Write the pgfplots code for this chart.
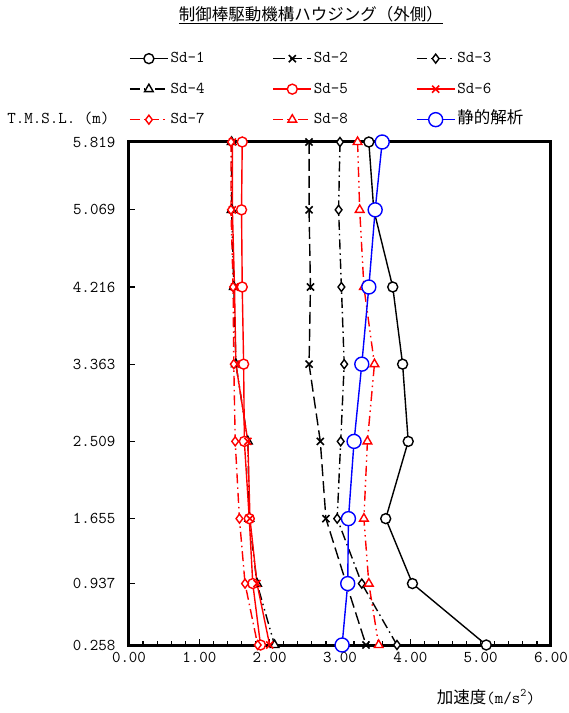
\documentclass[border=0pt]{standalone}
\usepackage{fontspec}
\usepackage{pgfplots}
\pgfplotsset{compat=1.18}
\newfontfamily\cjk{Noto Sans CJK JP}
\newcommand\fs{\fontsize{16.5}{19}\selectfont}
\begin{document}
\begin{tikzpicture}
\path[use as bounding box] (-129pt,-68pt) rectangle (440pt,645pt);
\begin{axis}[
 at={(0pt,0pt)}, anchor=south west,
 scale only axis, width=422pt, height=503pt,
 xmin=0, xmax=6, ymin=0.258, ymax=5.819,
 xtick={0,1,2,3,4,5,6}, xticklabels={0.00,1.00,2.00,3.00,4.00,5.00,6.00},
 minor x tick num=4,
 ytick={0.258,0.937,1.655,2.509,3.363,4.216,5.069,5.819},
 yticklabels={0.258,0.937,1.655,2.509,3.363,4.216,5.069,5.819},
 tick align=inside, xtick pos=bottom, ytick pos=left,
 major tick length=6pt, minor tick length=4pt,
 tick style={black, line width=1.2pt},
 every outer x axis line/.append style={line width=3pt},
 every outer y axis line/.append style={line width=3pt},
 axis line style={line width=3pt},
 ticklabel style={font=\fs\ttfamily},
 xticklabel style={yshift=-4pt},
 yticklabel style={xshift=-10pt},
 clip=false,
 legend columns=3, legend cell align=left,
 legend style={at={(0,1.182)}, anchor=north west, draw=none, fill=none, inner sep=0pt,
   row sep=14.5pt, column sep=0pt, font=\fs\ttfamily,
   nodes={inner xsep=2pt, inner ysep=0pt, text height=12pt, text depth=4pt}},
 legend image code/.code={\draw[mark repeat=2,mark phase=2,#1] plot coordinates {(0pt,0pt) (19pt,0pt) (38pt,0pt)};},
]
\draw[black, line width=3pt] (rel axis cs:0,0) rectangle (rel axis cs:1,1);
\addplot[black, line width=1.4pt, mark=*, mark size=5pt, mark options={solid, fill=white}]
 coordinates {(3.41,5.819)(3.48,5.069)(3.75,4.216)(3.89,3.363)(3.97,2.509)(3.65,1.655)(4.03,0.937)(5.08,0.258)};
\addlegendentry{\makebox[100pt][l]{Sd-1}}
\addplot[black, line width=1.4pt, dash pattern=on 12pt off 5pt, mark=x, mark size=5pt, mark options={solid, line width=1.6pt}]
 coordinates {(2.56,5.819)(2.56,5.069)(2.58,4.216)(2.56,3.363)(2.72,2.509)(2.80,1.655)(3.09,0.937)(3.37,0.258)};
\addlegendentry{\makebox[100pt][l]{Sd-2}}
\addplot[black, line width=1.4pt, dash pattern=on 10pt off 4pt on 1.5pt off 4pt, mark=diamond*, mark size=4.5pt, mark options={solid, fill=white}]
 coordinates {(3.00,5.819)(2.98,5.069)(3.02,4.216)(3.06,3.363)(3.01,2.509)(2.96,1.655)(3.31,0.937)(3.81,0.258)};
\addlegendentry{\makebox[100pt][l]{Sd-3}}
\addplot[black, line width=1.4pt, dash pattern=on 10pt off 4pt on 1.5pt off 4pt on 1.5pt off 4pt, mark=triangle*, mark size=5pt, mark options={solid, fill=white}]
 coordinates {(1.46,5.819)(1.46,5.069)(1.49,4.216)(1.52,3.363)(1.69,2.509)(1.71,1.655)(1.82,0.937)(2.07,0.258)};
\addlegendentry{\makebox[100pt][l]{Sd-4}}
\addplot[red, line width=1.4pt, mark=*, mark size=5pt, mark options={solid, fill=white}]
 coordinates {(1.61,5.819)(1.60,5.069)(1.61,4.216)(1.63,3.363)(1.64,2.509)(1.71,1.655)(1.76,0.937)(1.87,0.258)};
\addlegendentry{\makebox[100pt][l]{Sd-5}}
\addplot[red, line width=1.4pt, mark=x, mark size=5pt, mark options={solid, line width=1.6pt}]
 coordinates {(1.47,5.819)(1.47,5.069)(1.50,4.216)(1.52,3.363)(1.69,2.509)(1.72,1.655)(1.82,0.937)(2.00,0.258)};
\addlegendentry{\makebox[100pt][l]{Sd-6}}
\addplot[red, line width=1.4pt, dash pattern=on 10pt off 4pt on 1.5pt off 4pt, mark=diamond*, mark size=4.5pt, mark options={solid, fill=white}]
 coordinates {(1.45,5.819)(1.45,5.069)(1.48,4.216)(1.49,3.363)(1.51,2.509)(1.57,1.655)(1.65,0.937)(1.83,0.258)};
\addlegendentry{\makebox[100pt][l]{Sd-7}}
\addplot[red, line width=1.4pt, dash pattern=on 10pt off 4pt on 1.5pt off 4pt on 1.5pt off 4pt, mark=triangle*, mark size=5pt, mark options={solid, fill=white}]
 coordinates {(3.25,5.819)(3.28,5.069)(3.34,4.216)(3.49,3.363)(3.39,2.509)(3.34,1.655)(3.41,0.937)(3.55,0.258)};
\addlegendentry{\makebox[100pt][l]{Sd-8}}
\addplot[blue, line width=1.4pt, mark=*, mark size=7pt, mark options={solid, fill=white}]
 coordinates {(3.60,5.819)(3.50,5.069)(3.41,4.216)(3.31,3.363)(3.20,2.509)(3.12,1.655)(3.11,0.937)(3.03,0.258)};
\addlegendentry{\makebox[100pt][l]{\cjk 静的解析}}
\end{axis}
\node at (182pt,630pt) {\fs\cjk\underline{制御棒駆動機構ハウジング（外側）}};
\node[anchor=east] at (-16pt,527pt) {\fs\ttfamily T.M.S.L. (m)};
\node at (357pt,-52pt) {\fs{\cjk 加速度}\ttfamily(m/s\textsuperscript{2})};
\end{tikzpicture}
\end{document}
